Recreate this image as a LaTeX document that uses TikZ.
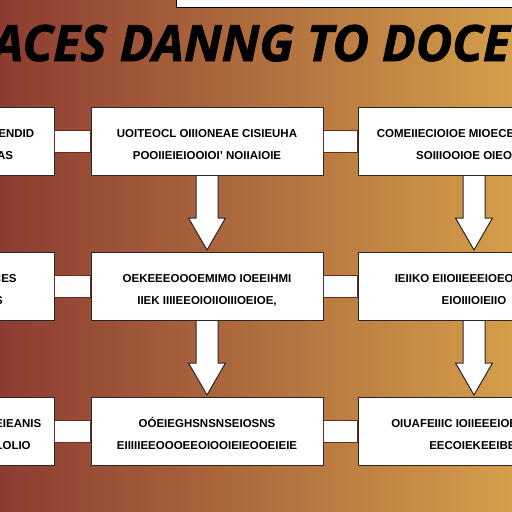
\documentclass[tikz,border=0pt]{standalone}
\usepackage{fontspec}
\setmainfont{Liberation Sans}
\newfontfamily\titlefont{Open Sans}[BoldItalicFeatures={FakeBold=1.6}]
\usetikzlibrary{positioning,calc}

\definecolor{bgleft}{HTML}{8C3C32}
\definecolor{bgmid}{HTML}{AC6B3A}
\definecolor{bgright}{HTML}{D49E4A}
\definecolor{boxline}{HTML}{2B2624}
\definecolor{linkline}{HTML}{6E2A1C}

\begin{document}
\begin{tikzpicture}[x=1pt,y=-1pt,node distance=34pt,
  stage/.style={draw=boxline,fill=white,line width=1pt,minimum width=232pt,minimum height=68pt,
    align=center,inner sep=0pt,font=\bfseries\fontsize{11.5}{22}\selectfont},
  link/.style={draw=linkline,fill=white,line width=0.8pt},
  down/.style={draw=boxline,fill=white,line width=1pt,line join=miter}]
  \useasboundingbox (0,0) rectangle (512,512);
  \shade[left color=bgleft,middle color=bgmid,right color=bgright] (0,0) rectangle (512,512);

  % title strip and title
  \draw[fill=white,draw=black,line width=0.8pt] (176,-2) rectangle (514,7);
  \node[anchor=base,font=\titlefont\bfseries\itshape\fontsize{50}{50}\selectfont] (title) at (251,61) {ACES DANNG TO DOCE};

  % middle column
  \node[stage] (m1) at (207,141.5) {\rule{0pt}{15pt}UOITEOCL OIIIONEAE CISIEUHA\\POOIIEIEIOOIOI' NOIIAIOIE};
  \node[stage] (m2) [below=76pt of m1] {\rule{0pt}{15pt}OEKEEEOOOEMIMO IOEEIHMI\\IIEK IIIIEEOIOIIOIIIOEIOE,};
  \node[stage] (m3) [below=76pt of m2] {\rule{0pt}{15pt}OÓEIEGHSNSNSEIOSNS\\EIIIIIEEOOOEEOIOOIEIEOOEIEIE};

  % left column
  \node[stage] (l1) [left=36pt of m1] {\rule{0pt}{15pt}OIEOEIIOEOE IEOIEIIEOENEENDID\\IOIEOIIOEIEIOEOIEIEOOAS};
  \node[stage] (l2) [left=36pt of m2] {\rule{0pt}{15pt}EIOEOEIIEOOIOEIOOEOCES\\EOIOEIOIEOIEIOEIOEIS};
  \node[stage] (l3) [left=36pt of m3] {\rule{0pt}{15pt}OIEAOEIEOIIOEOEIOEOEIOEEIEANIS\\OIEOIOIOEIOEIOOEIOEIOOLOLIO};

  % right column
  \node[stage] (r1) [right=of m1] {\rule{0pt}{15pt}COMEIIECIOIOE MIOECEIEOIOCEO\\SOIIIOOIOE OIEOIOE};
  \node[stage] (r2) [right=of m2] {\rule{0pt}{15pt}IEIIKO EIIOIIEEEIOEOIOEIOE\\EIOIIIOIEIIO};
  \node[stage] (r3) [right=of m3] {\rule{0pt}{15pt}OIUAFEIIIC IOIIEEEIOEIOEIOE\\EECOIEKEEIBEI};

  % links
  \foreach \a/\b in {l1/m1,m1/r1,l2/m2,m2/r2,l3/m3,m3/r3}
    \draw[link] ([yshift=11pt]\a.east) rectangle ([yshift=-11pt]\b.west);

  % arrows
  \foreach \a in {m1,m2,r1,r2}
    \draw[down] ($(\a.south)+(-11,0)$) -- ++(0,42) -- ++(-7.5,0) -- ++(18.5,32)
      -- ++(18.5,-32) -- ++(-7.5,0) -- ++(0,-42);
\end{tikzpicture}
\end{document}
